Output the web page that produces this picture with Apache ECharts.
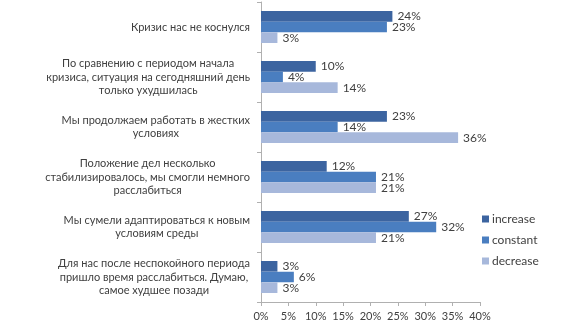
<!DOCTYPE html>
<html>
<head>
<meta charset="utf-8">
<script src="https://cdn.jsdelivr.net/npm/echarts@6/dist/echarts.min.js"></script>
<style>html,body{margin:0;padding:0;background:#fff}#c{width:570px;height:336px}</style>
</head>
<body>
<div id="c"></div>
<script>
var categories = [
  'Кризис нас не коснулся',
  'По сравнению с периодом начала\nкризиса, ситуация на сегодняшний день\nтолько ухудшилась',
  'Мы продолжаем работать в жестких\nусловиях',
  'Положение дел несколько\nстабилизировалось, мы смогли немного\nрасслабиться',
  'Мы сумели адаптироваться к новым\nусловиям среды',
  'Для нас после неспокойного периода\nпришло время расслабиться. Думаю,\nсамое худшее позади'
];
var seriesNames = ['increase', 'constant', 'decrease'];
var increaseValues = [24, 10, 23, 12, 27, 3];
var constantValues = [23, 4, 14, 21, 32, 6];
var decreaseValues = [3, 14, 36, 21, 21, 3];
var xTicks = [0, 5, 10, 15, 20, 25, 30, 35, 40];

var FONT = 'Lato';
var TXT = '#404040';
var colors = ['#3C64A0', '#4A7EC0', '#A7B8DB'];
var values = [increaseValues, constantValues, decreaseValues];

var chart = echarts.init(document.getElementById('c'), null, {renderer: 'canvas'});
chart.setOption({
  animation: false,
  textStyle: {fontFamily: FONT},
  grid: {left: 261, right: 90, top: 2, bottom: 34, containLabel: false},
  legend: {
    orient: 'vertical',
    left: 477, top: 208,
    itemWidth: 7, itemHeight: 7, itemGap: 9,
    icon: 'rect',
    textStyle: {fontFamily: FONT, fontSize: 12, color: TXT, padding: [0,0,0,-2]},
    data: seriesNames
  },
  xAxis: {
    type: 'value',
    min: xTicks[0], max: xTicks[xTicks.length - 1], interval: 5,
    axisLine: {show: true, lineStyle: {color: '#B0B0B0'}},
    axisTick: {show: true, length: 4, lineStyle: {color: '#B0B0B0'}},
    splitLine: {show: false},
    axisLabel: {formatter: '{value}%', fontFamily: FONT, fontSize: 11, color: TXT, margin: 9}
  },
  yAxis: {
    type: 'category',
    inverse: true,
    data: categories,
    axisLine: {show: true, lineStyle: {color: '#B0B0B0'}},
    axisTick: {show: true, length: 4, lineStyle: {color: '#B0B0B0'}},
    axisLabel: {
      margin: 11,
      formatter: function (v) {
        return v.split('\n').map(function (l) { return '{c|' + l + '}'; }).join('\n');
      },
      rich: {c: {align: 'center', fontFamily: FONT, fontSize: 11, color: TXT, lineHeight: 13.5}}
    }
  },
  series: seriesNames.map(function (n, i) {
    return {
      name: n,
      type: 'bar',
      data: values[i],
      itemStyle: {color: colors[i]},
      barGap: '0%',
      barCategoryGap: '36%',
      label: {
        show: true, position: 'right', distance: 5,
        formatter: '{c}%',
        fontFamily: FONT, fontSize: 12, color: TXT
      }
    };
  })
});
</script>
</body>
</html>
